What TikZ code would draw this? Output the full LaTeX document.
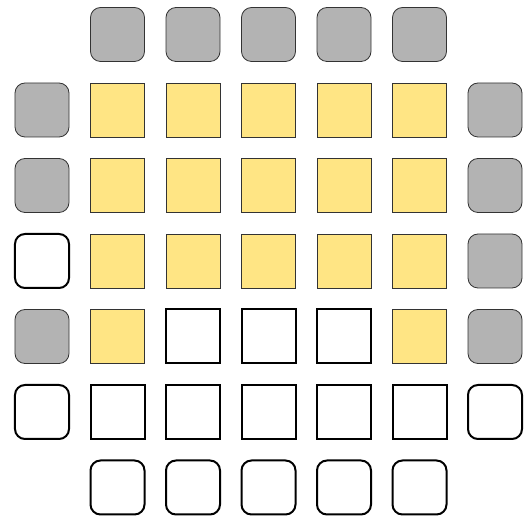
\documentclass[tikz,border=0pt]{standalone}
\usepackage{xcolor}
\usepackage{tikz}

\definecolor{cellgrey}{HTML}{B3B3B3}
\definecolor{cellyellow}{HTML}{FFE584}
\definecolor{celledge}{HTML}{333333}

\begin{document}
\begin{tikzpicture}[
    x=75.5pt, y=-75.5pt,
    cell/.style={rectangle, minimum size=54pt, inner sep=0pt},
    pad/.style={cell, rounded corners=10pt, draw=celledge, fill=cellgrey, line width=0.8pt},
    active/.style={cell, draw=celledge, fill=cellyellow, line width=0.8pt},
    idle/.style={cell, draw=black, fill=white, line width=2pt},
    idlepad/.style={idle, rounded corners=10pt},
]
\useasboundingbox (-42pt,34.5pt) rectangle (483pt,-483.5pt);

% top row
\foreach \c in {1,...,5} \node[pad] (r0c\c) at (\c,0) {};

% rows with filled cells
\foreach \r in {1,2} {
    \node[pad] (r\r c0) at (0,\r) {};
    \foreach \c in {1,...,5} \node[active] (r\r c\c) at (\c,\r) {};
    \node[pad] (r\r c6) at (6,\r) {};
}
\node[idlepad] (r3c0) at (0,3) {};
\foreach \c in {1,...,5} \node[active] (r3c\c) at (\c,3) {};
\node[pad] (r3c6) at (6,3) {};

\node[pad] (r4c0) at (0,4) {};
\node[active] (r4c1) at (1,4) {};
\foreach \c in {2,3,4} \node[idle] (r4c\c) at (\c,4) {};
\node[active] (r4c5) at (5,4) {};
\node[pad] (r4c6) at (6,4) {};

% empty rows
\node[idlepad] (r5c0) at (0,5) {};
\foreach \c in {1,...,5} \node[idle] (r5c\c) at (\c,5) {};
\node[idlepad] (r5c6) at (6,5) {};

\foreach \c in {1,...,5} \node[idlepad] (r6c\c) at (\c,6) {};
\end{tikzpicture}
\end{document}
